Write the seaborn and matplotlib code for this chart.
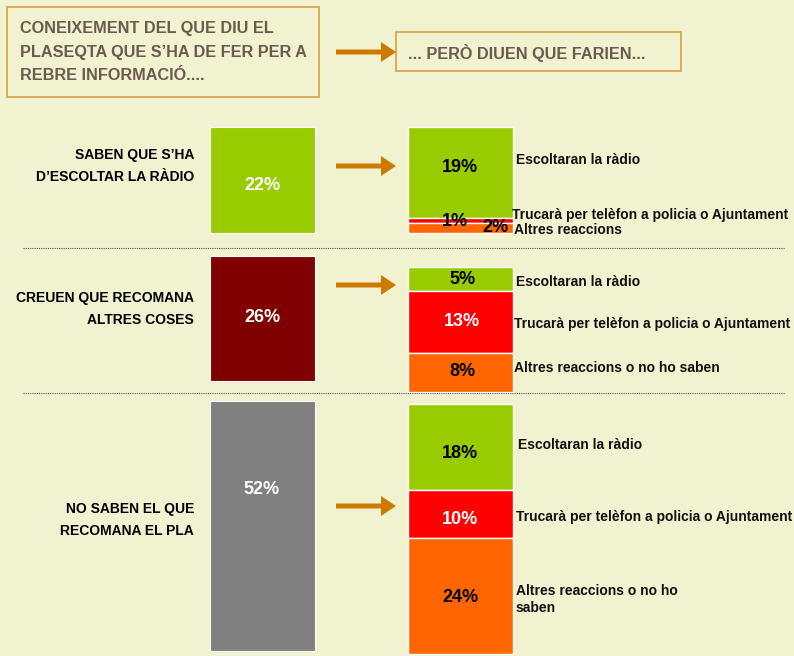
import matplotlib
matplotlib.use("Agg")
import matplotlib.pyplot as plt
import seaborn as sns
from matplotlib.patches import Rectangle, FancyArrow

# data
groups = [["SABEN QUE S\u2019HA", "D\u2019ESCOLTAR LA R\u00c0DIO"],
          ["CREUEN QUE RECOMANA", "ALTRES COSES"],
          ["NO SABEN EL QUE", "RECOMANA EL PLA"]]
group_pct = [22, 26, 52]
group_colors = ["#99CC00", "#800000", "#808080"]

reaction_names = ["Escoltaran la r\u00e0dio",
                  "Trucar\u00e0 per tel\u00e8fon a policia o Ajuntament",
                  "Altres reaccions o no ho saben"]
radio = [19, 5, 18]
trucara = [1, 13, 10]
altres = [2, 8, 24]
reaction_colors = ["#99CC00", "#FF0000", "#FF6600"]

title_lines = ["CONEIXEMENT DEL QUE DIU EL",
               "PLASEQTA QUE S\u2019HA DE FER PER A",
               "REBRE INFORMACI\u00d3...."]
subtitle = "... PER\u00d2 DIUEN QUE FARIEN..."

BG = "#F0F2D0"
ARROW = "#CC7A00"
BOX = "#D9A040"
TITLE_C = "#6B5A4E"
PX = 4.8  # pixels per percentage point

sns.set_theme(style="white")
plt.rcParams["font.family"] = ["Liberation Sans", "DejaVu Sans"]

fig = plt.figure(figsize=(7.94, 6.56), dpi=100, facecolor=BG)
ax = fig.add_axes([0, 0, 1, 1])
ax.set_facecolor(BG)
ax.set_xlim(0, 794)
ax.set_ylim(656, 0)
ax.axis("off")

# header boxes
ax.add_patch(Rectangle((7, 7), 312, 90, fill=False, edgecolor=BOX, lw=1.2))
for line, y in zip(title_lines, [28, 52, 76]):
    ax.text(20, y, line, ha="left", va="center", fontsize=11.7,
            color=TITLE_C, weight="bold")
ax.add_patch(Rectangle((396, 32), 285, 39, fill=False, edgecolor=BOX, lw=1.2))
ax.text(408, 53, subtitle, ha="left", va="center",
        fontsize=11.7, color=TITLE_C, weight="bold")


def arrow(y):
    ax.add_patch(FancyArrow(336, y, 60, 0, width=5, head_width=20,
                            head_length=15, length_includes_head=True,
                            color=ARROW, lw=0))


arrow(52)

left_tops = [127, 256, 401]
right_tops = [127, 267, 404]
label_y = [(155, 177), (298, 320), (509, 531)]
pct_y = [185, 318, 490]
arrow_y = [166, 285, 506]

# left bars
ax.bar([262] * 3, [v * PX for v in group_pct], bottom=left_tops, width=105,
       color=group_colors, edgecolor="white", linewidth=0.8)
for i, g in enumerate(groups):
    for line, y in zip(g, label_y[i]):
        ax.text(194, y, line, ha="right", va="center",
                fontsize=10, color="black", weight="bold")
    ax.text(262, pct_y[i], f"{group_pct[i]}%", ha="center", va="center",
            fontsize=13, color="white", weight="bold")
    arrow(arrow_y[i])

# right stacked bars
series = [radio, trucara, altres]
bottoms = list(right_tops)
for s, col in zip(series, reaction_colors):
    h = [v * PX for v in s]
    ax.bar([460] * 3, h, bottom=bottoms, width=105, color=col,
           edgecolor="white", linewidth=1.0)
    bottoms = [b + hh for b, hh in zip(bottoms, h)]

# segment value labels
val_pos = [
    [(460, 168), (455, 221), (495, 227)],
    [(462, 279), (462, 321), (462, 371)],
    [(460, 453), (460, 519), (460, 598)],
]
for g in range(3):
    for k in range(3):
        v = series[k][g]
        col = "white" if (k == 1 and g > 0) else "black"
        x, y = val_pos[g][k]
        ax.text(x, y, f"{v}%", ha="center", va="center", fontsize=13,
                color=col, weight="bold")

# reaction labels
kw = dict(ha="left", va="center", fontsize=10, weight="bold", color="#111111")
ax.text(516, 160, reaction_names[0], **kw)
ax.text(512, 215, reaction_names[1], **kw)
ax.text(514, 230, "Altres reaccions", **kw)

ax.text(516, 282, reaction_names[0], **kw)
ax.text(514, 324, reaction_names[1], **kw)
ax.text(514, 368, reaction_names[2], **kw)

ax.text(518, 445, reaction_names[0], **kw)
ax.text(516, 517, reaction_names[1], **kw)
ax.text(516, 591, "Altres reaccions o no ho", **kw)
ax.text(516, 608, "saben", **kw)

# dotted separators
for y in (248, 393):
    ax.plot([23, 785], [y, y], color="#555555", lw=0.8, linestyle=(0, (1, 1)))

fig.savefig("out.png", dpi=100, facecolor=BG)
